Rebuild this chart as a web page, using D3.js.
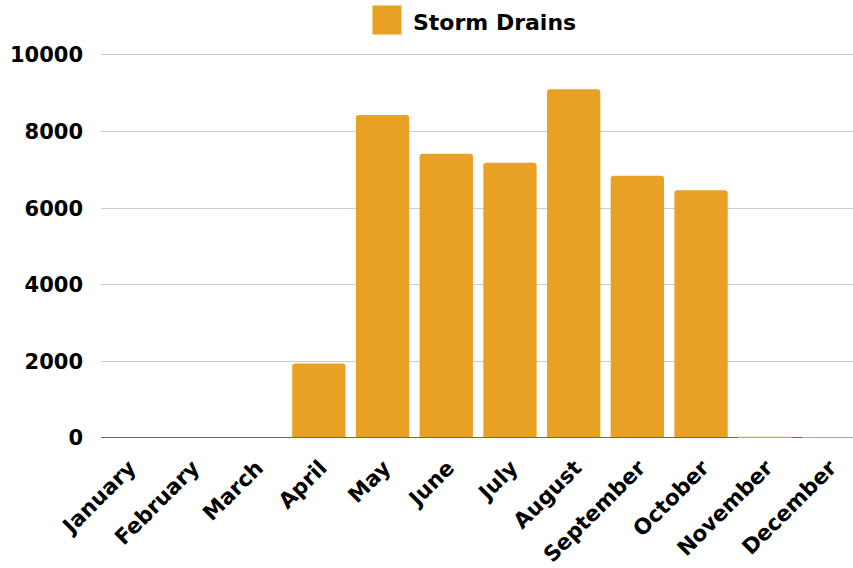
<!DOCTYPE html>
<html>
<head>
<meta charset="utf-8">
<script src="https://cdn.jsdelivr.net/npm/d3@7"></script>
<style>
  html, body { margin: 0; padding: 0; background: #fff; }
  svg { display: block; }
  text { font-family: "DejaVu Sans", "Open Sans", sans-serif; font-weight: 700; fill: #000; }
</style>
</head>
<body>
<svg id="chart" width="853" height="568"></svg>
<script>
const months = ["January","February","March","April","May","June","July","August","September","October","November","December"];
const stormDrains = [0, 0, 0, 1930, 8415, 7405, 7170, 9085, 6830, 6450, 15, 10];
const yTicks = [0, 2000, 4000, 6000, 8000, 10000];
const seriesName = "Storm Drains";

const W = 853, H = 568;
const barColor = "#E8A025";
const svg = d3.select("#chart");

const plotLeft = 101, plotRight = 860;
const x = d3.scaleBand().domain(months)
  .range([95.9, 95.9 + 12 * 63.7])
  .paddingInner(0.163).paddingOuter(0.0815);
const y = d3.scaleLinear().domain([0, 10000]).range([437.3, 54.3]);

// gridlines
svg.append("g").selectAll("line").data(yTicks.filter(t => t !== 0)).join("line")
  .attr("x1", plotLeft).attr("x2", plotRight)
  .attr("y1", d => Math.round(y(d)) + 0.5).attr("y2", d => Math.round(y(d)) + 0.5)
  .attr("stroke", "#cccccc").attr("stroke-width", 1);

// y axis labels
const yAxis = d3.axisLeft(y).tickValues(yTicks).tickSize(0).tickPadding(0).tickFormat(d3.format("d"));
const yg = svg.append("g").attr("transform", "translate(83,0)").call(yAxis);
yg.select(".domain").remove();
yg.selectAll("text").attr("font-size", 21).attr("font-family", null).attr("dy", "0.36em");

// bars with rounded top corners
const r = 3;
function barPath(d, i) {
  const x0 = x(months[i]), w = x.bandwidth();
  const y0 = y(0), y1 = y(d);
  const h = y0 - y1;
  if (h <= 0) return "";
  const rr = Math.min(r, h, w / 2);
  return `M${x0},${y0}V${y1 + rr}Q${x0},${y1} ${x0 + rr},${y1}H${x0 + w - rr}Q${x0 + w},${y1} ${x0 + w},${y1 + rr}V${y0}Z`;
}
svg.append("g").selectAll("path").data(stormDrains).join("path")
  .attr("d", (d, i) => barPath(d, i))
  .attr("fill", barColor);

// baseline
svg.append("line").attr("x1", plotLeft).attr("x2", plotRight)
  .attr("y1", 437.5).attr("y2", 437.5).attr("stroke", "#666").attr("stroke-width", 1);
// tiny bar overlays for near-zero values
svg.append("g").selectAll("line").data(stormDrains.map((v, i) => ({v, i})).filter(o => o.v > 0 && y(0) - y(o.v) < 1.5)).join("line")
  .attr("x1", o => x(months[o.i])).attr("x2", o => x(months[o.i]) + x.bandwidth())
  .attr("y1", 437.5).attr("y2", 437.5).attr("stroke", barColor).attr("stroke-width", 1.2);

// x labels
const xAxis = d3.axisBottom(x).tickSize(0).tickPadding(0);
const xg = svg.append("g").attr("transform", "translate(0,464)").call(xAxis);
xg.select(".domain").remove();
xg.selectAll("text")
  .attr("font-size", 21.5).attr("font-family", null)
  .attr("text-anchor", "end")
  .attr("dy", "0.35em")
  .attr("transform", "translate(4,0) rotate(-45)");

// legend
const lg = svg.append("g");
lg.append("rect").attr("x", 372.5).attr("y", 5.5).attr("width", 29).attr("height", 29).attr("fill", barColor);
lg.append("text").attr("x", 413).attr("y", 30).attr("font-size", 22).text(seriesName);
</script>
</body>
</html>
